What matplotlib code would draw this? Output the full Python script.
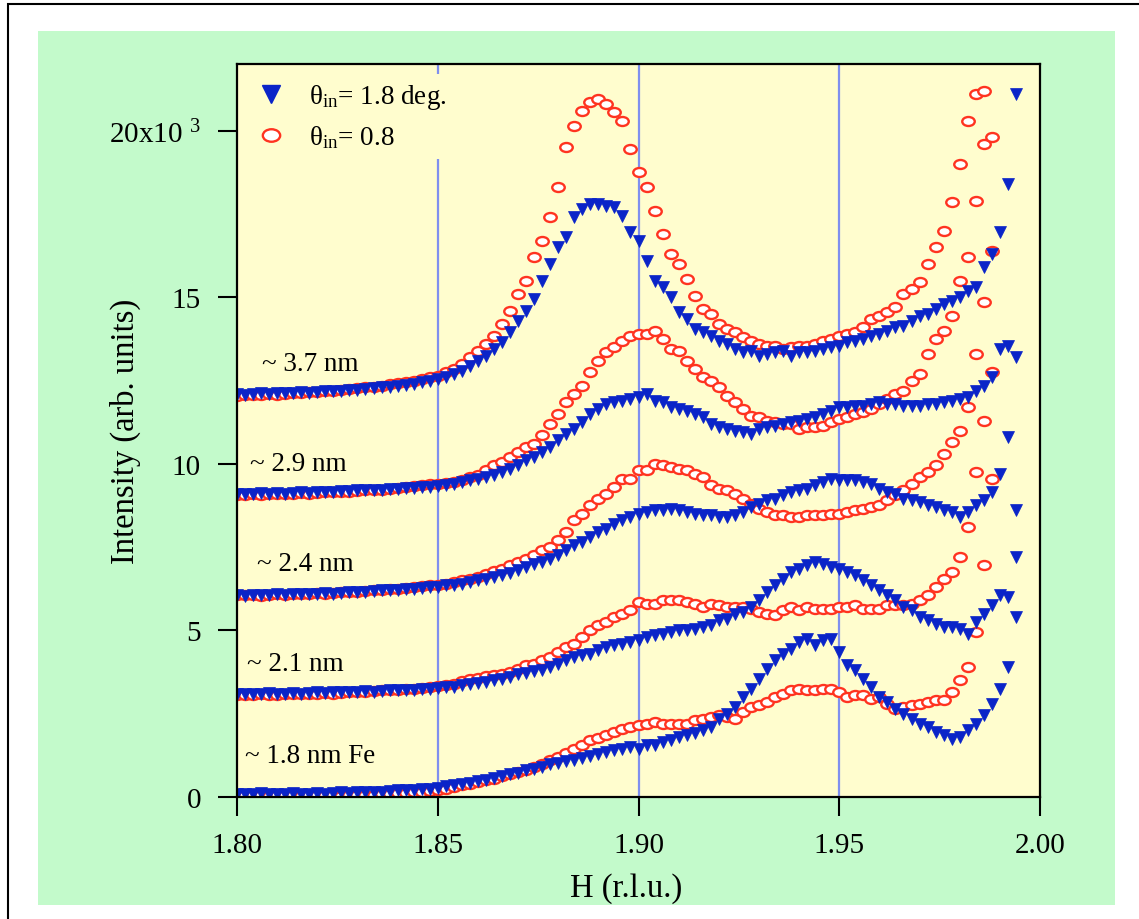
import numpy as np
import matplotlib
matplotlib.use("Agg")
import matplotlib.pyplot as plt
from matplotlib.lines import Line2D
from matplotlib.patches import Rectangle
from matplotlib.path import Path
from matplotlib.transforms import Affine2D

plt.rcParams['font.family'] = ['Liberation Serif', 'DejaVu Serif']
plt.rcParams['mathtext.fontset'] = 'custom'
plt.rcParams['mathtext.rm'] = 'Liberation Serif'
plt.rcParams['mathtext.it'] = 'Liberation Serif:italic'
plt.rcParams['mathtext.bf'] = 'Liberation Serif:bold'

# H scan, 0.002 r.l.u. steps
H = np.round(np.arange(1.800, 1.9945, 0.002), 3)

# intensities in 10^3 counts, curves already stacked by 3x10^3
# b* : theta_in = 1.8 deg, r* : theta_in = 0.8 deg
b1 = [0.10, 0.08, 0.10, 0.12, 0.10, 0.08, 0.10, 0.12, 0.10, 0.10,
      0.12, 0.10, 0.12, 0.14, 0.12, 0.14, 0.15, 0.14, 0.16, 0.18,
      0.20, 0.20, 0.22, 0.24, 0.25, 0.28, 0.32, 0.35, 0.40, 0.42,
      0.48, 0.52, 0.58, 0.62, 0.68, 0.72, 0.80, 0.85, 0.90, 0.98,
      1.02, 1.08, 1.12, 1.18, 1.22, 1.30, 1.35, 1.42, 1.45, 1.50,
      1.45, 1.55, 1.55, 1.65, 1.72, 1.80, 1.85, 1.92, 2.00, 2.10,
      2.35, 2.50, 2.70, 3.00, 3.25, 3.55, 3.85, 4.10, 4.30, 4.45,
      4.65, 4.75, 4.55, 4.70, 4.75, 4.35, 3.95, 3.80, 3.55, 3.30,
      3.00, 2.85, 2.65, 2.50, 2.35, 2.20, 2.10, 1.95, 1.85, 1.75,
      1.80, 2.00, 2.20, 2.45, 2.80, 3.25, 3.90, 5.40]
r1 = [0.08, 0.05, 0.06, 0.05, 0.04, 0.05, 0.06, 0.05, 0.04, 0.06,
      0.05, 0.06, 0.05, 0.04, 0.06, 0.05, 0.07, 0.06, 0.08, 0.10,
      0.12, 0.12, 0.14, 0.16, 0.18, 0.20, 0.25, 0.30, 0.35, 0.40,
      0.45, 0.50, 0.55, 0.62, 0.68, 0.75, 0.82, 0.90, 1.00, 1.10,
      1.20, 1.33, 1.45, 1.57, 1.70, 1.78, 1.85, 1.95, 2.05, 2.10,
      2.15, 2.20, 2.25, 2.20, 2.20, 2.20, 2.20, 2.30, 2.35, 2.40,
      2.45, 2.40, 2.35, 2.55, 2.70, 2.75, 2.85, 3.00, 3.10, 3.20,
      3.25, 3.20, 3.20, 3.25, 3.25, 3.15, 3.00, 3.05, 3.05, 2.95,
      3.00, 2.80, 2.65, 2.70, 2.75, 2.80, 2.85, 2.90, 2.90, 3.15,
      3.50, 3.90, 4.95, 6.95, 9.55]
b2 = [3.08, 3.10, 3.08, 3.10, 3.12, 3.10, 3.10, 3.12, 3.10, 3.12,
      3.14, 3.12, 3.14, 3.15, 3.14, 3.16, 3.18, 3.16, 3.18, 3.20,
      3.20, 3.22, 3.22, 3.25, 3.25, 3.28, 3.30, 3.30, 3.35, 3.40,
      3.42, 3.45, 3.50, 3.55, 3.60, 3.68, 3.72, 3.78, 3.82, 3.90,
      4.00, 4.10, 4.20, 4.25, 4.30, 4.40, 4.50, 4.55, 4.60, 4.65,
      4.70, 4.80, 4.85, 4.90, 4.95, 5.00, 5.00, 5.05, 5.10, 5.15,
      5.30, 5.35, 5.50, 5.55, 5.70, 5.90, 6.15, 6.35, 6.55, 6.75,
      6.85, 6.95, 7.05, 7.00, 6.90, 6.85, 6.75, 6.65, 6.50, 6.35,
      6.20, 6.05, 5.90, 5.70, 5.60, 5.40, 5.30, 5.20, 5.10, 5.10,
      5.05, 4.90, 5.25, 5.50, 5.75, 6.05, 6.00, 7.20]
r2 = [3.05, 3.06, 3.05, 3.08, 3.06, 3.05, 3.08, 3.10, 3.08, 3.10,
      3.10, 3.12, 3.10, 3.12, 3.15, 3.14, 3.16, 3.18, 3.20, 3.20,
      3.22, 3.25, 3.25, 3.28, 3.30, 3.32, 3.35, 3.40, 3.48, 3.55,
      3.58, 3.62, 3.65, 3.70, 3.75, 3.85, 3.95, 4.00, 4.10, 4.20,
      4.35, 4.50, 4.60, 4.80, 5.00, 5.15, 5.25, 5.40, 5.50, 5.60,
      5.85, 5.80, 5.80, 5.90, 5.90, 5.90, 5.85, 5.80, 5.70, 5.80,
      5.75, 5.70, 5.70, 5.70, 5.65, 5.55, 5.50, 5.45, 5.60, 5.70,
      5.60, 5.70, 5.65, 5.65, 5.65, 5.70, 5.70, 5.75, 5.65, 5.65,
      5.65, 5.75, 5.75, 5.75, 5.80, 5.90, 6.05, 6.30, 6.55, 6.75,
      7.20, 8.10, 9.75, 11.30, 12.75]
b3 = [6.05, 6.03, 6.05, 6.06, 6.05, 6.08, 6.06, 6.08, 6.10, 6.08,
      6.10, 6.12, 6.10, 6.12, 6.14, 6.15, 6.16, 6.18, 6.20, 6.20,
      6.22, 6.24, 6.25, 6.28, 6.30, 6.30, 6.35, 6.35, 6.40, 6.45,
      6.50, 6.55, 6.60, 6.65, 6.72, 6.80, 6.90, 6.98, 7.05, 7.15,
      7.25, 7.40, 7.55, 7.65, 7.80, 7.95, 8.05, 8.20, 8.30, 8.40,
      8.50, 8.55, 8.60, 8.60, 8.65, 8.60, 8.55, 8.50, 8.45, 8.45,
      8.40, 8.40, 8.45, 8.55, 8.70, 8.80, 8.90, 8.95, 9.05, 9.15,
      9.20, 9.25, 9.35, 9.45, 9.55, 9.50, 9.50, 9.50, 9.45, 9.40,
      9.25, 9.15, 9.10, 8.95, 8.90, 8.85, 8.75, 8.70, 8.60, 8.55,
      8.40, 8.55, 8.75, 8.90, 9.15, 9.70, 10.80, 8.60]
r3 = [6.05, 6.06, 6.05, 6.04, 6.06, 6.08, 6.06, 6.08, 6.10, 6.10,
      6.12, 6.10, 6.12, 6.14, 6.15, 6.16, 6.18, 6.20, 6.22, 6.24,
      6.25, 6.28, 6.30, 6.32, 6.35, 6.35, 6.40, 6.45, 6.50, 6.55,
      6.60, 6.70, 6.78, 6.85, 6.95, 7.05, 7.15, 7.25, 7.40, 7.50,
      7.70, 7.95, 8.30, 8.50, 8.75, 8.95, 9.10, 9.30, 9.55, 9.55,
      9.80, 9.80, 10.00, 9.95, 9.90, 9.85, 9.80, 9.70, 9.60, 9.35,
      9.25, 9.20, 9.10, 8.95, 8.80, 8.65, 8.55, 8.45, 8.45, 8.40,
      8.40, 8.45, 8.45, 8.45, 8.50, 8.50, 8.55, 8.60, 8.65, 8.70,
      8.75, 8.90, 9.05, 9.20, 9.40, 9.60, 9.75, 9.95, 10.30, 10.65,
      11.00, 11.70, 13.30, 14.85, 16.40]
b4 = [9.10, 9.08, 9.10, 9.12, 9.10, 9.12, 9.10, 9.12, 9.14, 9.12,
      9.15, 9.14, 9.16, 9.18, 9.18, 9.20, 9.20, 9.22, 9.22, 9.25,
      9.25, 9.27, 9.28, 9.30, 9.30, 9.32, 9.35, 9.38, 9.45, 9.50,
      9.55, 9.60, 9.65, 9.75, 9.85, 9.95, 10.10, 10.20, 10.35, 10.50,
      10.70, 10.90, 11.05, 11.25, 11.50, 11.65, 11.80, 11.85, 11.90, 11.95,
      12.00, 12.10, 11.90, 11.85, 11.70, 11.65, 11.60, 11.50, 11.40, 11.20,
      11.10, 11.05, 11.00, 10.95, 10.90, 11.05, 11.10, 11.15, 11.20, 11.25,
      11.30, 11.35, 11.40, 11.50, 11.60, 11.70, 11.70, 11.75, 11.75, 11.80,
      11.85, 11.80, 11.80, 11.75, 11.75, 11.75, 11.80, 11.80, 11.85, 11.90,
      11.95, 12.00, 12.20, 12.35, 12.60, 13.45, 13.55, 13.20]
r4 = [9.05, 9.06, 9.08, 9.06, 9.08, 9.10, 9.08, 9.10, 9.12, 9.10,
      9.12, 9.14, 9.15, 9.14, 9.16, 9.18, 9.20, 9.22, 9.22, 9.25,
      9.28, 9.30, 9.32, 9.35, 9.38, 9.40, 9.42, 9.45, 9.50, 9.60,
      9.65, 9.80, 9.95, 10.05, 10.20, 10.35, 10.50, 10.60, 10.85, 11.20,
      11.50, 11.85, 12.10, 12.35, 12.75, 13.10, 13.35, 13.50, 13.70, 13.85,
      13.90, 13.90, 14.00, 13.75, 13.45, 13.40, 13.10, 12.85, 12.60, 12.50,
      12.30, 12.05, 11.85, 11.65, 11.45, 11.40, 11.30, 11.25, 11.20, 11.20,
      11.05, 11.10, 11.10, 11.15, 11.25, 11.35, 11.40, 11.50, 11.55, 11.65,
      11.80, 11.95, 12.10, 12.20, 12.50, 12.70, 13.30, 13.75, 14.00, 14.45,
      15.50, 16.20, 17.90, 19.60, 19.80]
b5 = [12.10, 12.08, 12.10, 12.12, 12.10, 12.12, 12.12, 12.14, 12.15, 12.14,
      12.16, 12.18, 12.18, 12.20, 12.22, 12.22, 12.25, 12.28, 12.30, 12.32,
      12.35, 12.38, 12.40, 12.45, 12.50, 12.55, 12.60, 12.70, 12.80, 12.95,
      13.10, 13.25, 13.45, 13.65, 13.95, 14.30, 14.60, 14.95, 15.50, 16.00,
      16.50, 16.80, 17.40, 17.65, 17.80, 17.80, 17.75, 17.70, 17.45, 16.95,
      16.70, 16.10, 15.50, 15.30, 15.00, 14.55, 14.35, 14.05, 13.95, 13.85,
      13.70, 13.60, 13.45, 13.35, 13.40, 13.25, 13.30, 13.35, 13.40, 13.25,
      13.35, 13.35, 13.40, 13.45, 13.50, 13.55, 13.65, 13.70, 13.75, 13.85,
      13.90, 14.00, 14.10, 14.15, 14.30, 14.45, 14.50, 14.65, 14.80, 14.90,
      15.00, 15.20, 15.30, 15.90, 16.30, 16.95, 18.40, 21.10]
r5 = [12.05, 12.08, 12.06, 12.08, 12.10, 12.08, 12.10, 12.12, 12.12, 12.15,
      12.15, 12.18, 12.20, 12.22, 12.25, 12.28, 12.30, 12.32, 12.35, 12.40,
      12.42, 12.45, 12.50, 12.55, 12.60, 12.65, 12.75, 12.85, 13.00, 13.20,
      13.40, 13.60, 13.85, 14.20, 14.60, 15.10, 15.50, 16.20, 16.70, 17.40,
      18.30, 19.50, 20.15, 20.60, 20.85, 20.95, 20.80, 20.55, 20.30, 19.45,
      18.75, 18.30, 17.60, 16.90, 16.30, 16.00, 15.55, 15.05, 14.65, 14.50,
      14.20, 14.05, 13.95, 13.80, 13.70, 13.60, 13.55, 13.55, 13.45, 13.50,
      13.55, 13.55, 13.60, 13.70, 13.75, 13.85, 13.90, 13.95, 14.10, 14.35,
      14.45, 14.55, 14.70, 15.10, 15.25, 15.45, 16.00, 16.50, 17.00, 17.85,
      19.00, 20.30, 21.10, 21.20]

blue_sets = [b1, b2, b3, b4, b5]
red_sets = [r1, r2, r3, r4, r5]

# film thickness labels and where they sit (H, intensity)
thickness = ['~ 1.8 nm Fe', '~ 2.1 nm', '~ 2.4 nm', '~ 2.9 nm', '~ 3.7 nm']
label_pos = [(1.802, 1.25), (1.8025, 4.0), (1.805, 7.0), (1.8032, 10.0), (1.8062, 13.0)]

legend_labels = ['θ$_{\\mathrm{in}}$= 1.8 deg.', 'θ$_{\\mathrm{in}}$= 0.8']
guide_H = [1.85, 1.90, 1.95]

blue = '#0A24C8'
red = '#FF3320'
green_bg = '#C3FACB'
yellow_bg = '#FFFDCE'
guide_col = '#7F8FEF'

# squashed circle for the open markers
ellipse = Path.unit_circle().transformed(Affine2D().scale(1.0, 0.72))

fig = plt.figure(figsize=(11.39, 9.2), dpi=100)
fig.patches.append(Rectangle((38 / 1139, 14 / 920), 1077 / 1139, 874 / 920,
                             transform=fig.transFigure, facecolor=green_bg,
                             edgecolor='none', zorder=-2))
fig.patches.append(Rectangle((8 / 1139, -0.05), 1.2, 915 / 920 + 0.05,
                             transform=fig.transFigure, fill=False,
                             edgecolor='black', lw=1.5, zorder=-1))

ax = fig.add_axes([237 / 1139, 122 / 920, 803 / 1139, 733 / 920])
ax.set_facecolor(yellow_bg)

for h in guide_H:
    ax.axvline(h, color=guide_col, lw=1.6, zorder=1)

for r in red_sets:
    ax.plot(H[:len(r)], r, ls='none', marker=ellipse, ms=9.0,
            mfc='white', mec=red, mew=1.7, zorder=2)
for b in blue_sets:
    ax.plot(H[:len(b)], b, ls='none', marker='v', ms=9.0,
            color=blue, mec=blue, mew=0.5, zorder=3)

for txt, (hx, iy) in zip(thickness, label_pos):
    ax.text(hx, iy, txt, fontsize=19.5, ha='left', va='center', zorder=4)

ax.set_xlim(1.80, 2.00)
ax.set_ylim(0, 22)
ax.set_xticks([1.80, 1.85, 1.90, 1.95, 2.00])
ax.set_xticklabels(['1.80', '1.85', '1.90', '1.95', '2.00'])
ax.set_yticks([0, 5, 10, 15, 20])
ax.set_yticklabels(['0', '5', '10', '15', '20x10 $^{3}$'])
ax.tick_params(direction='out', length=14, width=1.5, labelsize=21,
               top=False, right=False)
ax.tick_params(axis='y', pad=12)
ax.tick_params(axis='x', pad=11)
for sp in ax.spines.values():
    sp.set_linewidth(1.6)
    sp.set_zorder(6)

ax.set_xlabel('H (r.l.u.)', fontsize=23.5)
ax.set_ylabel('Intensity (arb. units)', fontsize=23.5)
ax.xaxis.set_label_coords(0.485, -0.102)
ax.yaxis.set_label_coords(-0.12, 0.5)

handles = [Line2D([], [], ls='none', marker='v', ms=12.5, color=blue),
           Line2D([], [], ls='none', marker=ellipse, ms=12.5, mfc='white',
                  mec=red, mew=1.7)]
leg = ax.legend(handles, legend_labels, loc='upper left',
                bbox_to_anchor=(0.004, 0.986), fontsize=19.5, frameon=True,
                facecolor=yellow_bg, edgecolor='none', framealpha=1.0,
                fancybox=False, borderaxespad=0, borderpad=0.3,
                handlelength=1.7, handletextpad=0.55, labelspacing=0.45)
leg.set_zorder(5)

fig.savefig('out.png', dpi=100)
